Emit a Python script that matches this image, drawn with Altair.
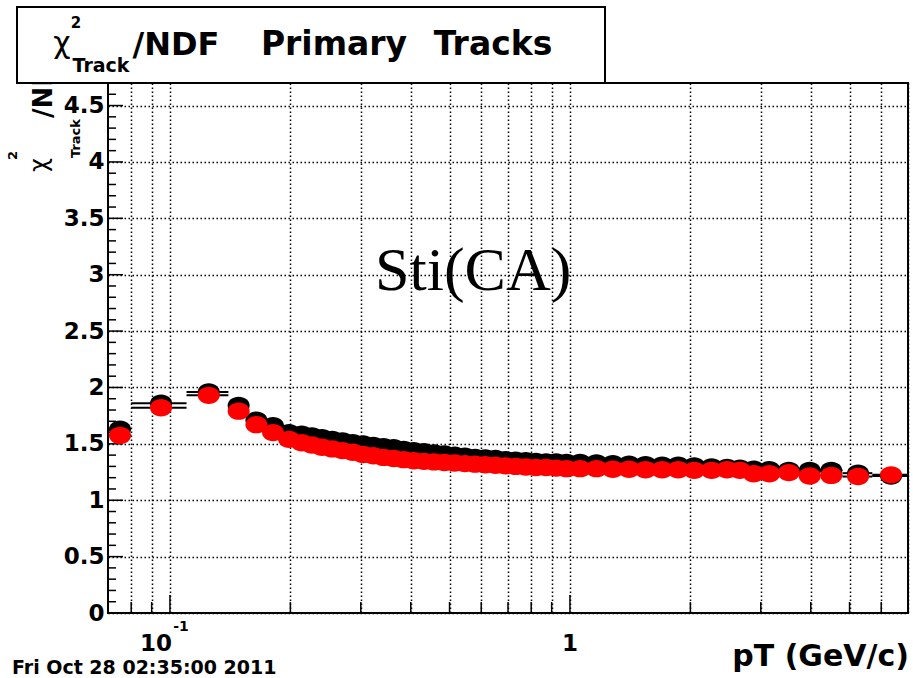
import altair as alt
import pandas as pd

# ---- data ----
bin_edges = [0.07, 0.08, 0.11, 0.14, 0.157, 0.172, 0.19, 0.207,
             0.22, 0.233, 0.247, 0.262, 0.278, 0.295, 0.313, 0.332, 0.352,
             0.373, 0.395, 0.419, 0.444, 0.471, 0.5, 0.53, 0.562, 0.596,
             0.632, 0.67, 0.71, 0.753, 0.798, 0.846, 0.897, 0.951, 1.01,
             1.11, 1.22, 1.34, 1.47, 1.62, 1.78, 1.95,
             2.14, 2.38, 2.56, 2.76, 3.0, 3.3, 3.75, 4.2, 4.8, 5.7, 7.0]

chi2_black = [1.63, 1.86, 1.96, 1.84, 1.71, 1.66, 1.60,
              1.585, 1.57, 1.555, 1.54, 1.525, 1.51, 1.50, 1.485, 1.475,
              1.465, 1.45, 1.44, 1.43, 1.42, 1.41, 1.40, 1.39, 1.38,
              1.375, 1.37, 1.36, 1.355, 1.35, 1.345, 1.34, 1.34, 1.335,
              1.335, 1.33, 1.325, 1.32, 1.315, 1.31, 1.31,
              1.305, 1.295, 1.29, 1.285, 1.275, 1.27, 1.265, 1.265, 1.265,
              1.24, 1.215]

chi2_red = [1.575, 1.82, 1.93, 1.79, 1.67, 1.60, 1.54,
            1.51, 1.49, 1.47, 1.455, 1.44, 1.425, 1.405, 1.395, 1.38,
            1.37, 1.36, 1.35, 1.345, 1.34, 1.335, 1.33, 1.325, 1.32,
            1.315, 1.31, 1.305, 1.30, 1.295, 1.29, 1.29, 1.285, 1.28,
            1.28, 1.28, 1.275, 1.275, 1.27, 1.27, 1.27,
            1.265, 1.265, 1.27, 1.265, 1.235, 1.235, 1.245, 1.215, 1.22,
            1.21, 1.225]

y_label_values = [0, 0.5, 1, 1.5, 2, 2.5, 3, 3.5, 4, 4.5]
y_minor_values = [round(i * 0.1, 1) for i in range(1, 48) if i % 5]
x_major_values = [0.1, 1.0]
x_minor_values = [0.08, 0.09, 0.2, 0.3, 0.4, 0.5, 0.6, 0.7, 0.8, 0.9,
                  2, 3, 4, 5, 6, 7]
x_grid_values = x_minor_values + x_major_values

W, H = 800, 530
xs = alt.Scale(type="log", domain=[0.07, 7.0], nice=False)
ys = alt.Scale(domain=[0, 4.7], nice=False, zero=False)
FONT = "DejaVu Sans"

grid_style = dict(gridColor="#000", gridOpacity=1, gridWidth=1.5,
                  gridDash=[1.5, 2.5])
x_axis = alt.Axis(values=x_grid_values, grid=True, labels=False, ticks=False,
                  domain=False, title=None, **grid_style)
y_axis = alt.Axis(values=y_label_values, grid=True, ticks=False, domain=False,
                  title=None, format=".1~f", labelFont=FONT,
                  labelFontWeight="bold", labelFontSize=23, labelColor="black",
                  labelPadding=4, **grid_style)


def X(field):
    return alt.X(field, type="quantitative", scale=xs, axis=x_axis)


def Y(field):
    return alt.Y(field, type="quantitative", scale=ys, axis=y_axis)


def series_df(vals):
    lo = bin_edges[:-1]
    hi = bin_edges[1:]
    return pd.DataFrame({
        "lo": lo, "hi": hi,
        "pt": [(a + b) / 2 for a, b in zip(lo, hi)],
        "chi2": vals,
    })


df_black = series_df(chi2_black)
df_red = series_df(chi2_red)

ELLIPSE = "M-1,0A1,0.79,0,1,0,1,0A1,0.79,0,1,0,-1,0Z"
MSIZE = 484

bars_black = alt.Chart(df_black).mark_rule(color="black", strokeWidth=2).encode(
    x=X("lo"), x2="hi:Q", y=Y("chi2"))
pts_black = alt.Chart(df_black).mark_point(
    shape=ELLIPSE, filled=True, size=MSIZE, color="black", opacity=1
).encode(x=X("pt"), y=Y("chi2"))
bars_red = alt.Chart(df_red).mark_rule(color="black", strokeWidth=2).encode(
    x=X("lo"), x2="hi:Q", y=Y("chi2"))
pts_red = alt.Chart(df_red).mark_point(
    shape=ELLIPSE, filled=True, size=MSIZE, color="#ff0000", opacity=1
).encode(x=X("pt"), y=Y("chi2"))

# inward tick marks (ROOT style)
yt_major = alt.Chart(pd.DataFrame({"v": y_label_values})).mark_rule(
    color="black", strokeWidth=1.5).encode(
    y=Y("v"), x=alt.value(0), x2=alt.value(15))
yt_minor = alt.Chart(pd.DataFrame({"v": y_minor_values})).mark_rule(
    color="black", strokeWidth=1.5).encode(
    y=Y("v"), x=alt.value(0), x2=alt.value(8))
xt_major = alt.Chart(pd.DataFrame({"v": x_major_values})).mark_rule(
    color="black", strokeWidth=1.5).encode(
    x=X("v"), y=alt.value(H), y2=alt.value(H - 18))
xt_minor = alt.Chart(pd.DataFrame({"v": x_minor_values})).mark_rule(
    color="black", strokeWidth=1.5).encode(
    x=X("v"), y=alt.value(H), y2=alt.value(H - 11))


def label(text, x, y, **kw):
    return alt.Chart(pd.DataFrame({"t": [text]})).mark_text(**kw).encode(
        text="t:N", x=alt.value(x), y=alt.value(y))


def xlabel(text, v, y, **kw):
    return alt.Chart(pd.DataFrame({"t": [text], "v": [v]})).mark_text(**kw).encode(
        text="t:N", x=X("v"), y=alt.value(y))


# rotated y-axis title pieces (partly hidden by the title box)
yt_common = dict(angle=270, align="left", baseline="alphabetic", color="black")
ytitle = [
    label("/NDF", -56, 35, font=FONT, fontWeight="bold", fontSize=26, **yt_common),
    label("Track", -28, 75, font=FONT, fontWeight="bold", fontSize=13, **yt_common),
    label("χ", -61, 89, font=FONT, fontSize=24, **yt_common),
    label("2", -91, 77, font=FONT, fontWeight="bold", fontSize=13, **yt_common),
]

title_box = alt.Chart(pd.DataFrame({"a": [0]})).mark_rect(
    fill="white", stroke="black", strokeWidth=2).encode(
    x=alt.value(-91), x2=alt.value(497), y=alt.value(-76), y2=alt.value(0))

tb = dict(font=FONT, fontWeight="bold", color="black", baseline="alphabetic",
          align="center")
title_txt = [
    label("χ", -46, -30, font=FONT, fontSize=30, color="black",
          baseline="alphabetic", align="center"),
    label("2", -32, -55, fontSize=15, **tb),
    label("Track", -7, -11, fontSize=19, **tb),
    label("/NDF", 68, -28, fontSize=32, **tb),
    label("Primary", 226, -28, fontSize=33, **tb),
    label("Tracks", 385, -28, fontSize=33, **tb),
]

xl = dict(font=FONT, fontWeight="bold", color="black", baseline="alphabetic",
          align="center")
x_labels = [
    xlabel("10", 0.1, 568, dx=-14, fontSize=23, **xl),
    xlabel("-1", 0.1, 548, dx=11, fontSize=14, **xl),
    xlabel("1", 1.0, 568, fontSize=23, **xl),
]

others = [
    label("pT (GeV/c)", 801, 583, font=FONT, fontWeight="bold", fontSize=30,
          color="black", align="right", baseline="alphabetic"),
    label("Fri Oct 28 02:35:00 2011", -96, 591, font=FONT, fontWeight="bold",
          fontSize=19, color="black", align="left", baseline="alphabetic"),
    label("Sti(CA)", 267, 207, font="Liberation Serif", fontSize=62,
          color="black", align="left", baseline="alphabetic"),
]

chart = alt.layer(
    bars_black, yt_major, yt_minor, xt_major, xt_minor,
    pts_black, bars_red, pts_red,
    *ytitle, title_box, *title_txt, *x_labels, *others,
).properties(
    width=W, height=H,
    autosize=alt.AutoSizeParams(type="none"),
    padding={"left": 108, "top": 83, "right": 5, "bottom": 65},
    background="white",
).configure_view(stroke="black", strokeWidth=2)

chart.save("out.html", embed_options={"renderer": "svg", "actions": False})
